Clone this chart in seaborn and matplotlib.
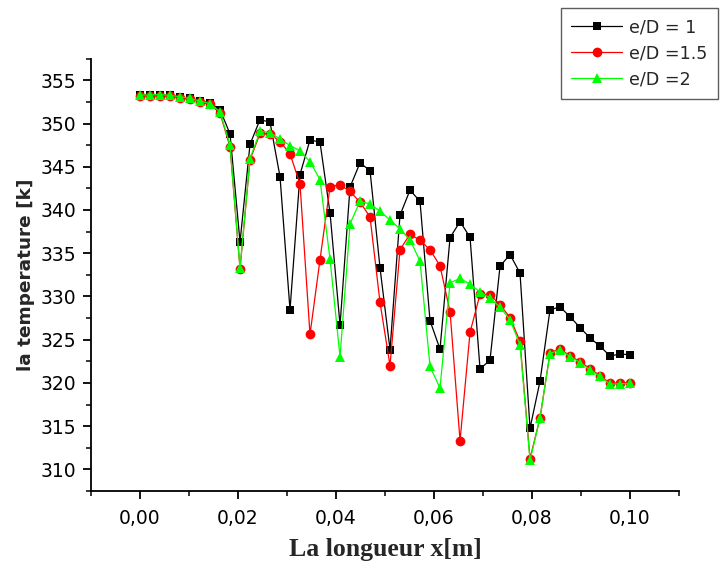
import matplotlib
matplotlib.use("Agg")
import matplotlib.pyplot as plt
from matplotlib.ticker import MultipleLocator, FuncFormatter
import pandas as pd
import seaborn as sns

# Position along the channel [m]
x_m = [0.0, 0.00204, 0.00408, 0.00612, 0.00816, 0.0102, 0.01224, 0.01429, 0.01633, 0.01837,
       0.02041, 0.02245, 0.02449, 0.02653, 0.02857, 0.03061, 0.03265, 0.03469, 0.03673, 0.03878,
       0.04082, 0.04286, 0.0449, 0.04694, 0.04898, 0.05102, 0.05306, 0.0551, 0.05714, 0.05918,
       0.06122, 0.06327, 0.06531, 0.06735, 0.06939, 0.07143, 0.07347, 0.07551, 0.07755, 0.07959,
       0.08163, 0.08367, 0.08571, 0.08776, 0.0898, 0.09184, 0.09388, 0.09592, 0.09796, 0.1]

# Temperature [K] for each spacing ratio
t_ed1 = [353.3, 353.3, 353.3, 353.25, 353.1, 352.9, 352.65, 352.35, 351.6, 348.8,
         336.3, 347.6, 350.45, 350.15, 343.85, 328.45, 344.1, 348.1, 347.85, 339.65,
         326.7, 342.65, 345.45, 344.55, 333.3, 323.85, 339.4, 342.3, 341.0, 327.2,
         323.9, 336.8, 338.65, 336.85, 321.6, 322.65, 333.5, 334.85, 332.7, 314.75,
         320.2, 328.45, 328.8, 327.65, 326.4, 325.2, 324.25, 323.1, 323.35, 323.25]
t_ed15 = [353.2, 353.2, 353.2, 353.15, 353.0, 352.8, 352.5, 352.2, 351.2, 347.3,
          333.2, 345.8, 348.85, 348.8, 347.9, 346.5, 343.0, 325.6, 334.25, 342.7,
          342.9, 342.15, 340.9, 339.2, 329.3, 322.0, 335.4, 337.2, 336.5, 335.4,
          333.55, 328.25, 313.3, 325.85, 330.25, 330.2, 329.05, 327.55, 324.8, 311.25,
          315.95, 323.5, 323.9, 323.15, 322.45, 321.65, 320.85, 319.95, 320.0, 320.0]
t_ed2 = [353.3, 353.3, 353.35, 353.25, 353.1, 352.9, 352.6, 352.3, 351.35, 347.5,
         333.3, 345.95, 349.1, 348.95, 348.2, 347.45, 346.85, 345.6, 343.5, 334.3,
         323.0, 338.4, 341.0, 340.7, 339.85, 338.85, 337.8, 336.55, 334.1, 321.9,
         319.4, 331.55, 332.1, 331.4, 330.55, 329.8, 328.75, 327.3, 324.4, 311.05,
         315.95, 323.4, 323.85, 323.05, 322.35, 321.5, 320.75, 319.85, 319.9, 319.95]

labels = ["e/D = 1", "e/D =1.5", "e/D =2"]
colors = ["#000000", "#ff0000", "#00ff00"]
markers = ["s", "o", "^"]
marker_sizes = [6.2, 7.0, 7.8]

sns.set_style("ticks")
plt.rcParams["font.family"] = ["DejaVu Sans"]

fig = plt.figure(figsize=(7.2, 5.69), dpi=100)
ax = fig.add_axes([0.1264, 0.1371, 0.8167, 0.7598])

series = [t_ed1, t_ed15, t_ed2]
for temps, lab, col, mk, ms in zip(series, labels, colors, markers, marker_sizes):
    df = pd.DataFrame({"x": x_m, "T": temps})
    sns.lineplot(data=df, x="x", y="T", ax=ax, color=col, marker=mk,
                 markersize=ms, markeredgewidth=0, linewidth=0.9,
                 sort=False, estimator=None, label=lab)

ax.set_xlim(-0.01, 0.11)
ax.set_ylim(307.5, 357.5)
ax.xaxis.set_major_locator(MultipleLocator(0.02))
ax.xaxis.set_minor_locator(MultipleLocator(0.01))
ax.yaxis.set_major_locator(MultipleLocator(5))
ax.yaxis.set_minor_locator(MultipleLocator(2.5))
ax.xaxis.set_major_formatter(FuncFormatter(lambda v, p: f"{v:.2f}".replace(".", ",")))
ax.yaxis.set_major_formatter(FuncFormatter(lambda v, p: f"{v:.0f}"))

for side in ["top", "right"]:
    ax.spines[side].set_visible(False)
for side in ["left", "bottom"]:
    ax.spines[side].set_linewidth(1.3)
    ax.spines[side].set_color("black")

ax.tick_params(axis="both", which="major", direction="out", length=6, width=1.3,
               labelsize=13.5, colors="black")
ax.tick_params(axis="both", which="minor", direction="out", length=3.5, width=1.1,
               colors="black")
ax.tick_params(axis="x", which="major", pad=7)
ax.tick_params(axis="y", which="major", pad=4.5)

ax.set_xlabel("La longueur x[m]", fontsize=18.5, fontweight="bold",
              family=["Liberation Serif", "DejaVu Serif"], labelpad=7)
ax.set_ylabel("la temperature [k]", fontsize=13.3, fontweight="bold", labelpad=4)

leg = ax.legend(loc="upper right", bbox_to_anchor=(718 / 720, 1 - 8 / 569),
                bbox_transform=fig.transFigure, borderaxespad=0, fontsize=12.6,
                frameon=True, fancybox=False, edgecolor="#333333",
                handlelength=2.9, handletextpad=0.4, labelspacing=0.45,
                borderpad=0.6)
leg.get_frame().set_linewidth(1.0)

fig.savefig("out.png", dpi=100, facecolor="white")
